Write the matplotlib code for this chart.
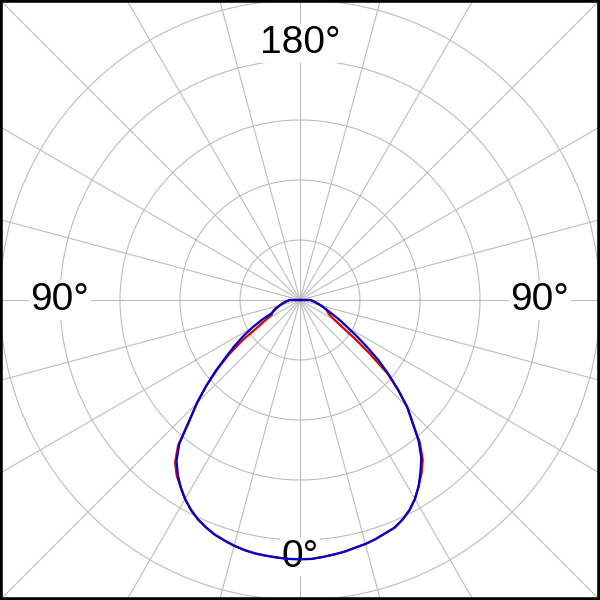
import matplotlib
matplotlib.use("Agg")
import matplotlib.pyplot as plt
import numpy as np

plt.rcParams['font.family'] = ['Liberation Sans', 'DejaVu Sans']

# gamma angles (deg from nadir) and intensities, ring step = 100
gamma = [0, 2.5, 5, 7.5, 10, 12.5, 15, 17.5, 20, 22.5, 25, 27.5, 30, 32.5, 35, 37.5,
         40, 42.5, 45, 47.5, 50, 52.5, 55, 57.5, 60, 62.5, 65, 70, 75, 80, 85, 90, 180]
blue_right = [432, 432, 430, 428, 426, 423, 421, 418, 414, 411, 404, 395, 383, 368, 350, 332,
              308, 278, 253, 222, 193, 165, 136, 112, 92, 78, 65, 47, 37, 28, 22, 17, 0]
blue_left = [432, 432, 431, 430, 429, 427, 424, 420, 416, 410, 403, 394, 383, 370, 355, 338,
             313, 273, 243, 212, 183, 155, 133, 112, 92, 72, 52, 43, 35, 28, 22, 17, 0]
red_right = [432, 432, 430, 428, 426, 423, 421, 418, 414, 411, 404, 395, 383, 368, 353, 336,
             311, 278, 253, 222, 190, 145, 110, 82, 67, 57, 52, 47, 37, 28, 22, 17, 0]
red_left = [432, 432, 431, 430, 429, 427, 424, 420, 416, 410, 403, 394, 383, 370, 358, 342,
            316, 273, 243, 212, 180, 150, 117, 82, 65, 53, 52, 45, 35, 28, 22, 17, 0]

rings = [100, 200, 300, 400, 500]
spoke_step = 15


def curve(right, left):
    g = np.radians(gamma)
    r_r = np.array(right, float)
    r_l = np.array(left, float)
    x = np.concatenate([-(r_l * np.sin(g))[::-1], r_r * np.sin(g)])
    y = np.concatenate([-(r_l * np.cos(g))[::-1], -r_r * np.cos(g)])
    return x, y


fig = plt.figure(figsize=(6, 6), dpi=100)
ax = fig.add_axes([0, 0, 1, 1])
ax.set_xlim(-500, 500)
ax.set_ylim(-500, 500)
ax.set_aspect('equal')
ax.set_xticks([])
ax.set_yticks([])

# grid
t = np.linspace(0, 2 * np.pi, 400)
for r in rings:
    ax.plot(r * np.cos(t), r * np.sin(t), color='#bdbdbd', lw=0.8, zorder=1)
for a in np.arange(0, 360, spoke_step):
    ar = np.radians(a)
    ax.plot([0, 800 * np.sin(ar)], [0, 800 * np.cos(ar)], color='#bdbdbd', lw=0.8, zorder=1)

# angle labels
lab_r = 428
box = dict(facecolor='white', edgecolor='none', pad=1)
ax.text(0, lab_r, '180°', ha='center', va='center', fontsize=28, bbox=box, zorder=2)
ax.text(-lab_r + 28, 0, '90°', ha='center', va='center', fontsize=28, bbox=box, zorder=2)
ax.text(lab_r - 28, 0, '90°', ha='center', va='center', fontsize=28, bbox=box, zorder=2)
ax.text(0, -lab_r, '0°', ha='center', va='center', fontsize=28, bbox=box, zorder=2)

xr, yr = curve(red_right, red_left)
ax.plot(xr, yr, color='#e00000', lw=1.6, zorder=3)
xb, yb = curve(blue_right, blue_left)
ax.plot(xb, yb, color='#0000cc', lw=1.6, zorder=4)

for s in ax.spines.values():
    s.set_linewidth(4)
    s.set_color('black')

fig.savefig('out.png', dpi=100)
